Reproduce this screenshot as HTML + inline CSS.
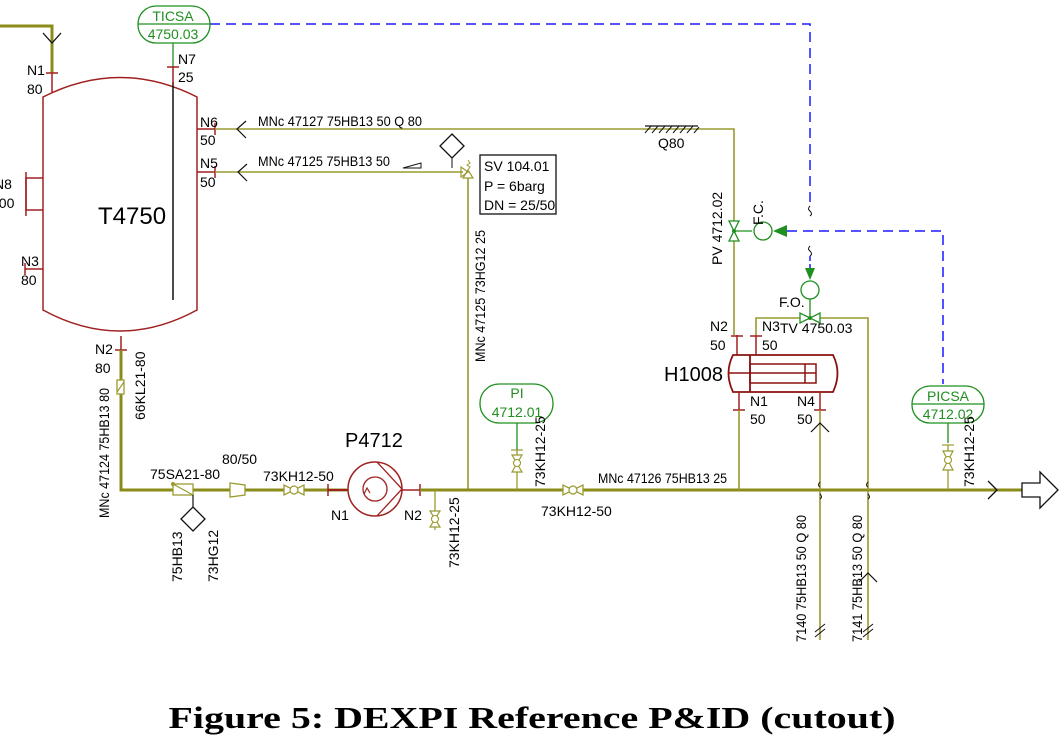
<!DOCTYPE html>
<html><head><meta charset="utf-8"><style>
html,body{margin:0;padding:0;background:#fff;}
svg{display:block;}
text{font-family:"Liberation Sans",sans-serif;font-size:14px;}
.g{fill:#1f8f1f}
.cap{font-family:"Liberation Serif",serif;font-weight:bold;font-size:31px;}
</style></head><body>
<svg width="1060" height="738" viewBox="0 0 1060 738" xmlns="http://www.w3.org/2000/svg">
<g fill="none" stroke-linecap="butt">
<polyline points="0,26 52,26 52,73" stroke="#8b8b1a" stroke-width="3"/>
<polyline points="43,33 52,43 61,33" stroke="#111" stroke-width="1.3"/>
<line x1="52" y1="73" x2="52" y2="92" stroke="#a02020" stroke-width="1.5"/>
<line x1="46" y1="73" x2="58" y2="73" stroke="#a02020" stroke-width="1.5"/>
<path d="M43,97 Q120,58 197,97 L197,310 Q120,352 43,310 Z" stroke="#a02020" stroke-width="1.5" fill="#fff"/>
<line x1="173" y1="82" x2="173" y2="300" stroke="#111" stroke-width="1.5"/>
<line x1="173" y1="43" x2="173" y2="67" stroke="#1f8f1f" stroke-width="1.3"/>
<line x1="173" y1="67" x2="173" y2="85" stroke="#a02020" stroke-width="1.5"/>
<line x1="167" y1="67" x2="179" y2="67" stroke="#a02020" stroke-width="1.5"/>
<polyline points="43,178 26,178 26,210 43,210" stroke="#a02020" stroke-width="1.5"/>
<line x1="26" y1="172" x2="26" y2="216" stroke="#a02020" stroke-width="1.5"/>
<line x1="25" y1="269" x2="43" y2="269" stroke="#a02020" stroke-width="1.5"/>
<line x1="25" y1="263" x2="25" y2="275" stroke="#a02020" stroke-width="1.5"/>
<line x1="197" y1="129" x2="215" y2="129" stroke="#a02020" stroke-width="1.5"/>
<line x1="215" y1="123" x2="215" y2="135" stroke="#a02020" stroke-width="1.5"/>
<line x1="197" y1="172" x2="215" y2="172" stroke="#a02020" stroke-width="1.5"/>
<line x1="215" y1="166" x2="215" y2="178" stroke="#a02020" stroke-width="1.5"/>
<polyline points="215,129 734,129 734,335" stroke="#9a9a30" stroke-width="1.6"/>
<polyline points="246,121 237,129 246,138" stroke="#111" stroke-width="1.2"/>
<line x1="645" y1="126" x2="698" y2="126" stroke="#111" stroke-width="1.2"/>
<path d="M645,133 l6,-7 M652,133 l6,-7 M659,133 l6,-7 M666,133 l6,-7 M673,133 l6,-7 M680,133 l6,-7 M687,133 l6,-7 M694,133 l5,-6" stroke="#111" stroke-width="1"/>
<polyline points="215,172 463,172" stroke="#9a9a30" stroke-width="1.6"/>
<polyline points="247,164 238,172 247,181" stroke="#111" stroke-width="1.2"/>
<path d="M403,168 L421,163 L421,168 Z" stroke="#111" stroke-width="1"/>
<line x1="468" y1="178" x2="468" y2="490" stroke="#9a9a30" stroke-width="1.6"/>
<path d="M461,167 L468,172 L461,177 Z M463,178 L468,170 L473,178 Z" stroke="#9a9a30" stroke-width="1.2"/>
<path d="M468,170 l2,-3 l-3,-2 l3,-2 l-2,-3" stroke="#9a9a30" stroke-width="1"/>
<line x1="452" y1="156" x2="452" y2="168" stroke="#111" stroke-width="1"/>
<path d="M452,134 L464,146 L452,158 L440,146 Z" stroke="#111" stroke-width="1.3" fill="#fff"/>
<rect x="480" y="155" width="76" height="59" stroke="#111" stroke-width="1.3"/>
<line x1="121" y1="336" x2="121" y2="350" stroke="#a02020" stroke-width="1.5"/>
<line x1="115" y1="350" x2="127" y2="350" stroke="#a02020" stroke-width="1.5"/>
<polyline points="121,350 121,490 347,490" stroke="#8b8b1a" stroke-width="3"/>
<rect x="117" y="380" width="7" height="14" stroke="#9a9a30" stroke-width="1.3" fill="#fff"/>
<line x1="117" y1="392" x2="124" y2="382" stroke="#9a9a30" stroke-width="1.2"/>
<rect x="173" y="484" width="20" height="11" stroke="#9a9a30" stroke-width="1.3" fill="#fff"/>
<line x1="173" y1="484" x2="193" y2="495" stroke="#9a9a30" stroke-width="1.2"/>
<circle cx="173" cy="484" r="2" fill="#9a9a30"/>
<line x1="193" y1="495" x2="193" y2="520" stroke="#111" stroke-width="1.2"/>
<path d="M193,507 L205,519 L193,531 L181,519 Z" stroke="#111" stroke-width="1.3" fill="#fff"/>
<path d="M230,483 L245,485 L245,495 L230,497 Z" stroke="#9a9a30" stroke-width="1.3" fill="#fff"/>
<path d="M284,485 L284,495 L304,485 L304,495 Z" stroke="#9a9a30" stroke-width="1.3" fill="#fff"/>
<circle cx="294" cy="490" r="4" stroke="#9a9a30" stroke-width="1.2" fill="#fff"/>
<line x1="328" y1="490" x2="348" y2="490" stroke="#a02020" stroke-width="2"/>
<line x1="328" y1="484" x2="328" y2="496" stroke="#a02020" stroke-width="1.5"/>
<circle cx="375" cy="489" r="27" stroke="#a02020" stroke-width="1.5" fill="#fff"/>
<circle cx="375" cy="489" r="12" stroke="#a02020" stroke-width="1.3"/>
<path d="M377,462 L402,489 L377,516" stroke="#a02020" stroke-width="1.3"/>
<path d="M364,494 l3,-6 l3,5" stroke="#a02020" stroke-width="1.2"/>
<line x1="402" y1="490" x2="420" y2="490" stroke="#a02020" stroke-width="1.5"/>
<line x1="420" y1="484" x2="420" y2="496" stroke="#a02020" stroke-width="1.5"/>
<line x1="420" y1="490" x2="1022" y2="490" stroke="#8b8b1a" stroke-width="3"/>
<polyline points="988,481 997,490 988,499" stroke="#111" stroke-width="1.3"/>
<path d="M1022,483 L1040,483 L1040,472 L1058,490 L1040,508 L1040,497 L1022,497 Z" stroke="#111" stroke-width="1.3" fill="#fff"/>
<line x1="435" y1="490" x2="435" y2="530" stroke="#9a9a30" stroke-width="1.3"/>
<path d="M430,511 L440,511 L430,527 L440,527 Z" stroke="#9a9a30" stroke-width="1.2" fill="#fff"/>
<circle cx="435" cy="519" r="3.5" stroke="#9a9a30" stroke-width="1.1" fill="#fff"/>
<line x1="517" y1="423" x2="517" y2="450" stroke="#1f8f1f" stroke-width="1.3"/>
<line x1="511" y1="450" x2="523" y2="450" stroke="#9a9a30" stroke-width="1.2"/>
<line x1="517" y1="450" x2="517" y2="490" stroke="#9a9a30" stroke-width="1.3"/>
<path d="M512,455 L522,455 L512,472 L522,472 Z" stroke="#9a9a30" stroke-width="1.2" fill="#fff"/>
<circle cx="517" cy="463" r="3.5" stroke="#9a9a30" stroke-width="1.1" fill="#fff"/>
<rect x="480" y="384" width="73" height="39" rx="19" stroke="#1f8f1f" stroke-width="1.3" fill="#fff"/>
<path d="M563,485 L563,495 L583,485 L583,495 Z" stroke="#9a9a30" stroke-width="1.3" fill="#fff"/>
<circle cx="573" cy="490" r="4" stroke="#9a9a30" stroke-width="1.2" fill="#fff"/>
<path d="M729,221 L739,221 L729,241 L739,241 Z" stroke="#1f8f1f" stroke-width="1.3" fill="#fff"/>
<circle cx="734" cy="231" r="2" fill="#1f8f1f"/>
<line x1="734" y1="231" x2="752" y2="231" stroke="#1f8f1f" stroke-width="1.3"/>
<circle cx="763" cy="231" r="9" stroke="#1f8f1f" stroke-width="1.3" fill="#fff"/>
<path d="M773,231 L787,225 L787,237 Z" fill="#1f8f1f"/>
<path d="M210,24 L810,24 L810,206 M787,231 L943,231 L943,384" stroke="#1a1aff" stroke-width="1.5" stroke-dasharray="10,6"/>
<path d="M810,206 q-3,3 0,5 q3,3 0,5" stroke="#111" stroke-width="1"/>
<path d="M810,246 q-3,3 0,5 q3,3 0,5" stroke="#111" stroke-width="1"/>
<path d="M810,256 L810,268" stroke="#1a1aff" stroke-width="1.5" stroke-dasharray="5,3"/>
<path d="M805,268 L815,268 L810,280 Z" fill="#1f8f1f"/>
<circle cx="810" cy="290" r="9" stroke="#1f8f1f" stroke-width="1.3" fill="#fff"/>
<line x1="810" y1="299" x2="810" y2="318" stroke="#1f8f1f" stroke-width="1.3"/>
<polyline points="756,336 756,318 868,318 868,640" stroke="#9a9a30" stroke-width="1.6"/>
<path d="M800,313 L800,323 L820,313 L820,323 Z" stroke="#1f8f1f" stroke-width="1.3" fill="#fff"/>
<circle cx="810" cy="318" r="2" fill="#1f8f1f"/>
<line x1="737" y1="335" x2="737" y2="355" stroke="#a02020" stroke-width="1.5"/>
<line x1="731" y1="336" x2="743" y2="336" stroke="#a02020" stroke-width="1.5"/>
<line x1="756" y1="336" x2="756" y2="355" stroke="#a02020" stroke-width="1.5"/>
<line x1="750" y1="336" x2="762" y2="336" stroke="#a02020" stroke-width="1.5"/>
<path d="M733,355 L833,355 Q842,373 833,392 L733,392 Q724,373 733,355 Z" stroke="#8b1010" stroke-width="1.8" fill="#fff"/>
<line x1="750" y1="355" x2="750" y2="392" stroke="#8b1010" stroke-width="1.8"/>
<line x1="728" y1="373" x2="750" y2="373" stroke="#8b1010" stroke-width="1.5"/>
<rect x="750" y="364" width="66" height="19" stroke="#8b1010" stroke-width="1.5"/>
<line x1="750" y1="373" x2="816" y2="373" stroke="#8b1010" stroke-width="1.5"/>
<line x1="805" y1="364" x2="805" y2="383" stroke="#8b1010" stroke-width="1.5"/>
<line x1="739" y1="392" x2="739" y2="410" stroke="#a02020" stroke-width="1.5"/>
<line x1="733" y1="410" x2="745" y2="410" stroke="#a02020" stroke-width="1.5"/>
<line x1="739" y1="410" x2="739" y2="490" stroke="#9a9a30" stroke-width="1.6"/>
<line x1="820" y1="392" x2="820" y2="410" stroke="#a02020" stroke-width="1.5"/>
<line x1="814" y1="410" x2="826" y2="410" stroke="#a02020" stroke-width="1.5"/>
<line x1="820" y1="410" x2="820" y2="640" stroke="#9a9a30" stroke-width="1.6"/>
<polyline points="811,432 820,423 829,432" stroke="#111" stroke-width="1.2"/>
<polyline points="859,582 868,573 877,582" stroke="#111" stroke-width="1.2"/>
<path d="M820,482 q-3,3 0,5 M820,494 q3,3 0,5 M868,482 q-3,3 0,5 M868,494 q3,3 0,5" stroke="#111" stroke-width="1"/>
<path d="M815,632 l10,-8 M815,637 l10,-8 M863,632 l10,-8 M863,637 l10,-8" stroke="#111" stroke-width="1"/>
<line x1="948" y1="423" x2="948" y2="443" stroke="#1f8f1f" stroke-width="1.3"/>
<line x1="942" y1="445" x2="954" y2="445" stroke="#9a9a30" stroke-width="1.2"/>
<line x1="948" y1="445" x2="948" y2="490" stroke="#9a9a30" stroke-width="1.3"/>
<path d="M943,451 L953,451 L943,470 L953,470 Z" stroke="#9a9a30" stroke-width="1.2" fill="#fff"/>
<circle cx="948" cy="460" r="3.5" stroke="#9a9a30" stroke-width="1.1" fill="#fff"/>
<rect x="912" y="386" width="72" height="37" rx="18" stroke="#1f8f1f" stroke-width="1.3" fill="#fff"/>
<line x1="912" y1="404" x2="984" y2="404" stroke="#1f8f1f" stroke-width="1.2"/>
<rect x="138" y="6" width="72" height="37" rx="18" stroke="#1f8f1f" stroke-width="1.3" fill="#fff"/>
<line x1="138" y1="24" x2="210" y2="24" stroke="#1f8f1f" stroke-width="1.2"/>
</g>
<text x="173" y="21" text-anchor="middle" class="g">TICSA</text>
<text x="173" y="39" text-anchor="middle" class="g">4750.03</text>
<text x="948" y="401" text-anchor="middle" class="g">PICSA</text>
<text x="948" y="419" text-anchor="middle" class="g">4712.02</text>
<text x="517" y="398" text-anchor="middle" class="g">PI</text>
<text x="517" y="417" text-anchor="middle" class="g">4712.01</text>
<text x="27" y="75">N1</text><text x="27" y="94">80</text>
<text x="178" y="64">N7</text><text x="178" y="82">25</text>
<text x="-6" y="189">N8</text><text x="-9" y="208">300</text>
<text x="21" y="266">N3</text><text x="21" y="285">80</text>
<text x="200" y="127">N6</text><text x="200" y="145">50</text>
<text x="200" y="168">N5</text><text x="200" y="187">50</text>
<text x="258" y="126" textLength="164" lengthAdjust="spacingAndGlyphs">MNc 47127 75HB13 50 Q 80</text>
<text x="258" y="166" textLength="132" lengthAdjust="spacingAndGlyphs">MNc 47125 75HB13 50</text>
<text x="98" y="224" style="font-size:24px">T4750</text>
<text x="484" y="171">SV 104.01</text>
<text x="484" y="191">P = 6barg</text>
<text x="484" y="210">DN = 25/50</text>
<text x="658" y="148">Q80</text>
<text x="95" y="354">N2</text><text x="95" y="373">80</text>
<text x="150" y="479">75SA21-80</text>
<text x="222" y="464">80/50</text>
<text x="263" y="481">73KH12-50</text>
<text x="345" y="447" style="font-size:20px">P4712</text>
<text x="331" y="520">N1</text><text x="404" y="520">N2</text>
<text x="541" y="516">73KH12-50</text>
<text x="598" y="483" textLength="129" lengthAdjust="spacingAndGlyphs">MNc 47126 75HB13 25</text>
<text x="664" y="381" style="font-size:20px">H1008</text>
<text x="710" y="331">N2</text><text x="710" y="350">50</text>
<text x="762" y="331">N3</text><text x="762" y="350">50</text>
<text x="780" y="333">TV 4750.03</text>
<text x="779" y="307">F.O.</text>
<text x="750" y="406">N1</text><text x="750" y="424">50</text>
<text x="797" y="406">N4</text><text x="797" y="424">50</text>
<g>
<text transform="translate(109,518) rotate(-90)" textLength="130" lengthAdjust="spacingAndGlyphs">MNc 47124 75HB13 80</text>
<text transform="translate(145,420) rotate(-90)">66KL21-80</text>
<text transform="translate(485,362) rotate(-90)" textLength="132" lengthAdjust="spacingAndGlyphs">MNc 47125 73HG12 25</text>
<text transform="translate(722,265) rotate(-90)">PV 4712.02</text>
<text transform="translate(763,225) rotate(-90)">F.C.</text>
<text transform="translate(545,487) rotate(-90)">73KH12-25</text>
<text transform="translate(459,568) rotate(-90)">73KH12-25</text>
<text transform="translate(974,487) rotate(-90)">73KH12-25</text>
<text transform="translate(182,582) rotate(-90)">75HB13</text>
<text transform="translate(218,582) rotate(-90)">73HG12</text>
<text transform="translate(806,642) rotate(-90)" textLength="127" lengthAdjust="spacingAndGlyphs">7140 75HB13 50 Q 80</text>
<text transform="translate(862,642) rotate(-90)" textLength="127" lengthAdjust="spacingAndGlyphs">7141 75HB13 50 Q 80</text>
</g>
<text x="532" y="728" text-anchor="middle" class="cap" textLength="727" lengthAdjust="spacingAndGlyphs">Figure 5: DEXPI Reference P&amp;ID (cutout)</text>
</svg>
</body></html>
